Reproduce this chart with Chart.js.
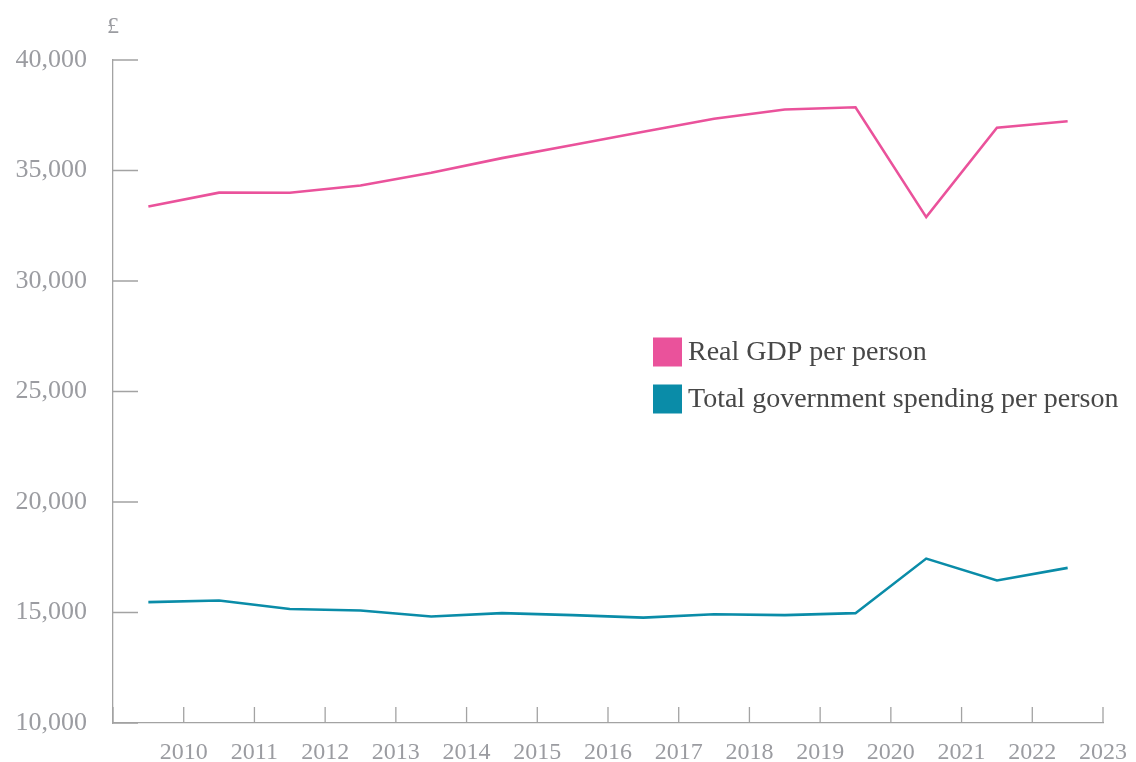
<!DOCTYPE html>
<html>
<head>
<meta charset="utf-8">
<script src="https://cdn.jsdelivr.net/npm/chart.js@4.4.1/dist/chart.umd.min.js"></script>
<style>
  html, body { margin: 0; padding: 0; background: #fff; }
  #wrap { width: 1136px; height: 762px; position: relative; }
</style>
</head>
<body>
<div id="wrap"><canvas id="gdpChart"></canvas></div>
<script>
// Data (fiscal years, plotted mid-year)
const firstYear = 2009;
const yearLabels = ['2010', '2011', '2012', '2013', '2014', '2015', '2016', '2017', '2018', '2019', '2020', '2021', '2022', '2023'];
const gdpPerPerson = [33370, 34000, 33990, 34320, 34900, 35560, 36150, 36750, 37340, 37760, 37860, 32890, 36940, 37230];
const spendingPerPerson = [15470, 15540, 15160, 15090, 14820, 14970, 14880, 14770, 14920, 14880, 14970, 17440, 16450, 17020];
const seriesNames = ['Real GDP per person', 'Total government spending per person'];
const seriesColors = ['#ea529b', '#0a8ca8'];
const yTicks = [10000, 15000, 20000, 25000, 30000, 35000, 40000];

const axisGrey = '#a3a3a3';
const textGrey = '#9b9ca1';
const serif = '"Liberation Serif", "DejaVu Serif", serif';

function toPoints(values) {
    return values.map(function(v, i) { return { x: firstYear + i + 0.5, y: v }; });
}

// inward tick marks, the £ unit and the legend inside the plot
const decorations = {
    id: 'decorations',
    afterDraw(chart) {
        const ctx = chart.ctx;
        const area = chart.chartArea;
        const xs = chart.scales.x;
        const ys = chart.scales.y;
        ctx.save();
        ctx.strokeStyle = axisGrey;
        ctx.lineWidth = 1.3;
        ctx.beginPath();
        xs.ticks.forEach(function(t) {
            const px = xs.getPixelForValue(t.value);
            ctx.moveTo(px, area.bottom);
            ctx.lineTo(px, area.bottom - 16);
        });
        ys.ticks.forEach(function(t) {
            const py = ys.getPixelForValue(t.value);
            ctx.moveTo(area.left, py);
            ctx.lineTo(area.left + 25, py);
        });
        ctx.stroke();

        ctx.fillStyle = textGrey;
        ctx.font = '24px ' + serif;
        ctx.textAlign = 'center';
        ctx.textBaseline = 'middle';
        ctx.fillText('£', area.left, 27);

        // legend
        ctx.font = '28px ' + serif;
        ctx.textAlign = 'left';
        chart.data.datasets.forEach(function(ds, i) {
            const cy = 352 + i * 47;
            ctx.fillStyle = ds.borderColor;
            ctx.fillRect(653, cy - 14.5, 29, 29);
            ctx.fillStyle = '#474747';
            ctx.fillText(ds.label, 688, cy + 1);
        });
        ctx.restore();
    }
};

function noPadding(scale) {
    scale.paddingLeft = 0;
    scale.paddingRight = 0;
    scale.paddingTop = 0;
    scale.paddingBottom = 0;
}

const chartCtx = document.getElementById('gdpChart').getContext('2d');
new Chart(chartCtx, {
    type: 'line',
    data: {
        datasets: [{
            label: seriesNames[0],
            data: toPoints(gdpPerPerson),
            borderColor: seriesColors[0],
            borderWidth: 2.6,
            pointRadius: 0,
            tension: 0
        }, {
            label: seriesNames[1],
            data: toPoints(spendingPerPerson),
            borderColor: seriesColors[1],
            borderWidth: 2.6,
            pointRadius: 0,
            tension: 0
        }]
    },
    options: {
        responsive: true,
        maintainAspectRatio: false,
        animation: false,
        layout: {
            padding: { top: 60, right: 33, left: 0, bottom: 0 }
        },
        plugins: {
            legend: { display: false },
            tooltip: { enabled: false }
        },
        scales: {
            x: {
                type: 'linear',
                min: firstYear,
                max: firstYear + yearLabels.length,
                afterFit: function(scale) { scale.height = 39; noPadding(scale); },
                afterBuildTicks: function(scale) {
                    scale.ticks = [{ value: firstYear }].concat(yearLabels.map(function(l) { return { value: Number(l) }; }));
                },
                grid: { display: false, drawTicks: false },
                border: { display: true, color: axisGrey, width: 1.3 },
                ticks: {
                    padding: 15,
                    autoSkip: false,
                    maxRotation: 0,
                    color: textGrey,
                    font: { family: serif, size: 24 },
                    callback: function(v) {
                        const i = yearLabels.indexOf(String(v));
                        return i < 0 ? '' : yearLabels[i];
                    }
                }
            },
            y: {
                min: yTicks[0],
                max: yTicks[yTicks.length - 1],
                afterFit: function(scale) { scale.width = 113; noPadding(scale); },
                afterBuildTicks: function(scale) {
                    scale.ticks = yTicks.map(function(v) { return { value: v }; });
                },
                grid: { display: false, drawTicks: false },
                border: { display: true, color: axisGrey, width: 1.3 },
                ticks: {
                    padding: 26,
                    color: textGrey,
                    font: { family: serif, size: 26 },
                    callback: function(v) { return v.toLocaleString('en-GB'); }
                }
            }
        }
    },
    plugins: [decorations]
});
</script>
</body>
</html>
